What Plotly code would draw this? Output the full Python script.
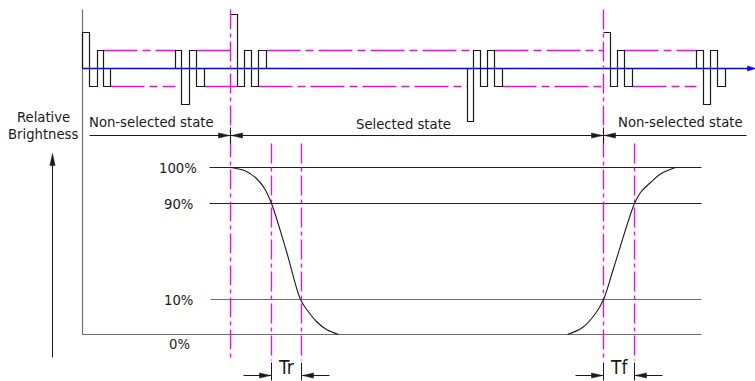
import plotly.graph_objects as go

W, H = 755, 381

# ---------------- drive waveform (top panel) ----------------
BASELINE_Y = 68
AXIS_X = 82
AXIS_TOP, AXIS_BOTTOM = 9, 334
WAVE_END_X = 755

# pulse groups: edge x positions and the pulse level (y) between consecutive edges
GROUP_EDGES = [
    [82, 89, 97, 103, 110],
    [175, 181, 189, 196, 204],
    [230, 237, 244, 251, 258, 266],
    [467, 473, 480, 487, 494, 502],
    [603, 610, 617, 624, 632],
    [696, 703, 710, 717, 725],
]
GROUP_LEVELS = [
    [32, 86, 50, 86],
    [50, 104, 50, 86],
    [14, 86, 50, 86, 50],
    [121, 50, 86, 50, 86],
    [32, 86, 50, 86],
    [50, 104, 50, 86],
]
GROUP_OPEN_LEFT = [False, False, True, False, True, False]

# magenta reference levels drawn between the pulse groups
UPPER_REF_Y, LOWER_REF_Y = 50, 86
UPPER_REF_SPANS = [(103, 175), (196, 230), (266, 473), (494, 603), (624, 696)]
LOWER_REF_SPANS = [(110, 175), (204, 237), (258, 467), (502, 603), (632, 696)]

# ---------------- state bar ----------------
STATE_X = [230, 603]
STATE_ARROW_Y = 135
STATE_BAR_LEFT, STATE_BAR_RIGHT = 89, 746
STATE_LABELS = ["Non-selected state", "Selected state", "Non-selected state"]
STATE_LABEL_X = [151, 403, 680]
STATE_LABEL_Y = [120.5, 123, 120.5]

# ---------------- brightness response (bottom panel) ----------------
LEVEL_LABELS = ["100%", "90%", "10%", "0%"]
LEVEL_Y = [167, 203, 299, 334]
LEVEL_LINE_X0 = [209, 209, 210, 82]
LEVEL_LINE_X1 = [701, 701, 701, 701]
LEVEL_COLORS = ["#222222", "#222222", "#6e6e6e", "#6e6e6e"]
LEVEL_LABEL_X = [198, 194, 194, 179]
LEVEL_LABEL_Y = [167, 203, 299, 343]

FALL_X = [230, 245, 256, 264, 271, 286, 300, 307, 316, 326, 338]
FALL_Y = [167, 170.5, 178, 188, 203, 251, 299, 310, 321, 329, 334]
RISE_X = [567, 582, 595, 603, 613, 634, 640, 650, 660, 675]
RISE_Y = [334, 327, 313, 299, 268, 203, 192, 182, 173.5, 167]

# timing marker lines and labels
TIMING_X = [271, 301, 603, 634]
TIMING_TOP, TIMING_BOTTOM, TICK_BOTTOM = 143, 360, 380
TIMING_LABELS = ["Tr", "Tf"]
TIMING_PAIRS = [(271, 301), (603, 634)]
TIMING_ARROW_Y = 375
TIMING_ARROW_LEN = 28
TIMING_LABEL_Y = 366

# brightness axis arrow
BRIGHT_ARROW_X = 52
BRIGHT_ARROW_TOP, BRIGHT_ARROW_BOTTOM = 153, 357
BRIGHT_LABEL = ["Relative", "Brightness"]
BRIGHT_LABEL_X = 42.5
BRIGHT_LABEL_Y = [116, 133]

MAGENTA = "#ff00ff"
BLUE = "#0000ff"
INK = "#1a1a1a"
FONT = dict(family="DejaVu Sans Condensed, Liberation Sans, Arial, sans-serif",
            size=14.7, color="#1a1a1a")
DASH_V = "20px,4px,4px,4px"
DASH_H = "34px,5px,8px,5px"

fig = go.Figure()


def add_line(xs, ys, color, width=1.0, dash="solid", shape="linear"):
    fig.add_trace(go.Scatter(
        x=xs, y=ys, mode="lines", hoverinfo="skip", showlegend=False,
        line=dict(color=color, width=width, dash=dash, shape=shape),
    ))


def add_head(tip_x, tip_y, direction, color=INK, length=11.0, half=2.6):
    # filled triangular arrowhead with its tip at (tip_x, tip_y)
    if direction == "right":
        xs = [tip_x, tip_x - length, tip_x - length, tip_x]
        ys = [tip_y, tip_y - half, tip_y + half, tip_y]
    elif direction == "left":
        xs = [tip_x, tip_x + length, tip_x + length, tip_x]
        ys = [tip_y, tip_y - half, tip_y + half, tip_y]
    else:  # up (screen up = smaller y)
        xs = [tip_x, tip_x - half, tip_x + half, tip_x]
        ys = [tip_y, tip_y + length, tip_y + length, tip_y]
    fig.add_trace(go.Scatter(
        x=xs, y=ys, mode="lines", fill="toself", fillcolor=color,
        line=dict(color=color, width=0.5), hoverinfo="skip", showlegend=False,
    ))


# axes of the diagram
add_line([AXIS_X, AXIS_X], [AXIS_TOP, AXIS_BOTTOM], "#6e6e6e", 1.2)

# level lines of the brightness panel
for y, x0, x1, c in zip(LEVEL_Y, LEVEL_LINE_X0, LEVEL_LINE_X1, LEVEL_COLORS):
    add_line([x0, x1], [y, y], c, 1.1)

# magenta reference levels of the drive waveform
for x0, x1 in UPPER_REF_SPANS:
    add_line([x0, x1], [UPPER_REF_Y, UPPER_REF_Y], MAGENTA, 1.3, DASH_H)
for x0, x1 in LOWER_REF_SPANS:
    add_line([x0, x1], [LOWER_REF_Y, LOWER_REF_Y], MAGENTA, 1.3, DASH_H)

# blue time axis of the waveform
add_line([AXIS_X, WAVE_END_X - 6], [BASELINE_Y, BASELINE_Y], BLUE, 1.4)
add_head(WAVE_END_X, BASELINE_Y, "right", BLUE, length=8, half=2.6)

# pulse groups (square steps around the baseline)
for edges, levels, open_left in zip(GROUP_EDGES, GROUP_LEVELS, GROUP_OPEN_LEFT):
    xs, ys = [], []
    if not open_left:
        xs.append(edges[0])
        ys.append(BASELINE_Y)
    for i, lv in enumerate(levels):
        xs += [edges[i], edges[i + 1]]
        ys += [lv, lv]
    xs.append(edges[-1])
    ys.append(BASELINE_Y)
    add_line(xs, ys, INK, 1.2)

# dash-dot state boundaries and timing markers
for x in STATE_X:
    add_line([x, x], [AXIS_TOP, TIMING_BOTTOM], MAGENTA, 1.3, DASH_V)
for x in TIMING_X:
    if x not in STATE_X:
        add_line([x, x], [TIMING_TOP, TIMING_BOTTOM], MAGENTA, 1.3, DASH_V)
for x in TIMING_X:
    add_line([x, x], [TIMING_BOTTOM + 2, TICK_BOTTOM], INK, 1.0)

# state bar with arrows pointing at each boundary
add_line([STATE_BAR_LEFT, STATE_BAR_RIGHT], [STATE_ARROW_Y, STATE_ARROW_Y], INK, 1.0)
for x in STATE_X:
    add_line([x, x], [STATE_ARROW_Y - 8, STATE_ARROW_Y + 8], INK, 1.0)
    add_head(x - 1, STATE_ARROW_Y, "right")
    add_head(x + 1, STATE_ARROW_Y, "left")

# brightness response curves
add_line(FALL_X, FALL_Y, INK, 1.1, shape="spline")
add_line(RISE_X, RISE_Y, INK, 1.1, shape="spline")

# Tr / Tf dimension arrows
for (xa, xb) in TIMING_PAIRS:
    add_line([xa - TIMING_ARROW_LEN, xa], [TIMING_ARROW_Y] * 2, INK, 1.0)
    add_head(xa - 1, TIMING_ARROW_Y, "right")
    add_line([xb, xb + TIMING_ARROW_LEN], [TIMING_ARROW_Y] * 2, INK, 1.0)
    add_head(xb + 1, TIMING_ARROW_Y, "left")

# relative brightness arrow
add_line([BRIGHT_ARROW_X, BRIGHT_ARROW_X], [BRIGHT_ARROW_BOTTOM, BRIGHT_ARROW_TOP + 4], INK, 1.0)
add_head(BRIGHT_ARROW_X, BRIGHT_ARROW_TOP, "up", length=12, half=2.6)

annotations = []
for txt, x, y in zip(STATE_LABELS, STATE_LABEL_X, STATE_LABEL_Y):
    annotations.append(dict(x=x, y=y, text=txt, showarrow=False,
                            xanchor="center", yanchor="middle", font=FONT))
for txt, x, y in zip(LEVEL_LABELS, LEVEL_LABEL_X, LEVEL_LABEL_Y):
    anchor = "center" if txt == "0%" else "right"
    annotations.append(dict(x=x, y=y, text=txt, showarrow=False,
                            xanchor=anchor, yanchor="middle", font=FONT))
for txt, y in zip(BRIGHT_LABEL, BRIGHT_LABEL_Y):
    annotations.append(dict(x=BRIGHT_LABEL_X, y=y, text=txt, showarrow=False,
                            xanchor="center", yanchor="middle", font=FONT))
for txt, (xa, xb) in zip(TIMING_LABELS, TIMING_PAIRS):
    annotations.append(dict(x=(xa + xb) / 2, y=TIMING_LABEL_Y, text=txt, showarrow=False,
                            xanchor="center", yanchor="middle",
                            font=dict(FONT, size=19)))

# half-pixel offset keeps 1px lines on pixel centres
fig.update_layout(
    width=W, height=H,
    margin=dict(l=0, r=0, t=0, b=0),
    paper_bgcolor="white", plot_bgcolor="white",
    xaxis=dict(range=[-0.5, W - 0.5], visible=False, fixedrange=True),
    yaxis=dict(range=[H - 0.5, -0.5], visible=False, fixedrange=True),
    annotations=annotations,
    showlegend=False,
)

fig.write_html("out.html")
